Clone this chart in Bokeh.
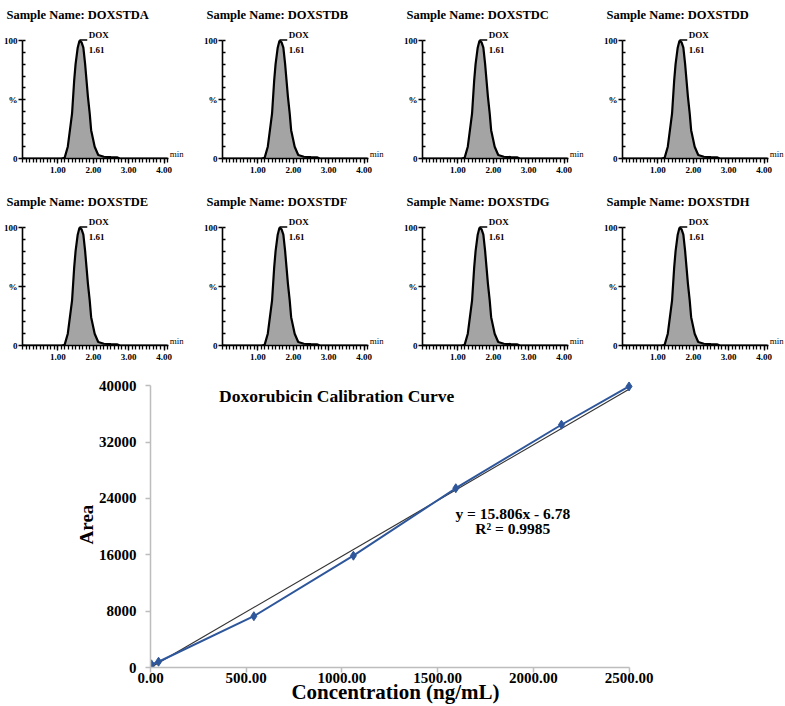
from bokeh.plotting import figure
from bokeh.models import FixedTicker, Range1d, NumeralTickFormatter
from bokeh.layouts import column, row
from bokeh.embed import file_html
from bokeh.resources import INLINE
from bokeh.core.properties import value
import numpy as np

SERIF = "Liberation Serif"

# ---------------- chromatogram data ----------------
sample_names = ["DOXSTDA", "DOXSTDB", "DOXSTDC", "DOXSTDD",
                "DOXSTDE", "DOXSTDF", "DOXSTDG", "DOXSTDH"]
peak_name = "DOX"
retention_time = 1.61
peak_time = [0.00, 1.10, 1.19, 1.28, 1.34, 1.40, 1.43, 1.46, 1.50, 1.56, 1.61,
             1.67, 1.72, 1.77, 1.81, 1.85, 1.90, 1.94, 2.04, 2.14, 2.30, 2.50,
             2.67, 2.75, 4.10]
peak_intensity = [0, 0, 0.5, 10, 24, 38, 52, 66, 80, 94, 100,
                  98.5, 94, 80, 66, 52, 38, 24, 10, 3, 1.5, 1.2,
                  1.0, 0, 0]
chrom_x_ticks = [1, 2, 3, 4]
chrom_y_ticks = [0, 50, 100]
chrom_y_labels = {50: "%"}

# ---------------- calibration data ----------------
concentration = [3, 5, 42, 540, 1060, 1595, 2147, 2500]
area = [150, 450, 820, 7280, 15870, 25450, 34460, 39900]
slope = 15.806
intercept = -6.78
r_squared = 0.9985
calib_x_ticks = [0, 500, 1000, 1500, 2000, 2500]
calib_y_ticks = [0, 8000, 16000, 24000, 32000, 40000]


def chromatogram(name, width, border_right):
    p = figure(width=width, height=187, output_backend="svg", toolbar_location=None,
               x_range=Range1d(0, 4.55), y_range=Range1d(0, 112),
               min_border_left=19, min_border_right=border_right, min_border_top=0,
               min_border_bottom=29, title="Sample Name: " + name)
    p.title.text_font = SERIF
    p.title.text_font_style = "bold"
    p.title.text_font_size = "12.5px"
    p.title.text_color = "black"
    p.title.offset = -16
    p.title.standoff = 10
    p.outline_line_color = None
    p.grid.visible = False

    p.varea(x=peak_time, y1=0, y2=peak_intensity, fill_color="#a4a4a4")
    p.line(peak_time, peak_intensity, line_color="black", line_width=2.2)

    p.line([retention_time, retention_time + 0.22], [100.6, 100.6],
           line_color="black", line_width=1.5)
    p.text(x=[retention_time + 0.26, retention_time + 0.26], y=[105, 92],
           text=[peak_name, f"{retention_time:.2f}"],
           text_font=value(SERIF), text_font_style="bold", text_font_size="9px",
           text_baseline="middle", text_align="left", text_color="black")
    p.text(x=[4.16], y=[4], text=["min"], text_font=value(SERIF),
           text_font_size="9px", text_baseline="middle", text_align="left",
           text_color="black")

    xa = p.xaxis[0]
    xa.bounds = (0, 4.12)
    xa.ticker = FixedTicker(ticks=chrom_x_ticks,
                            minor_ticks=list(np.round(np.arange(0, 4.15, 0.1), 2)))
    xa.formatter = NumeralTickFormatter(format="0.00")
    xa.axis_line_width = 1.6
    xa.major_tick_out = 5
    xa.major_tick_in = 0
    xa.minor_tick_out = 4
    xa.minor_tick_in = 0
    xa.major_tick_line_width = 1.3
    xa.minor_tick_line_width = 1.3
    xa.major_label_standoff = 3

    ya = p.yaxis[0]
    ya.bounds = (0, 100)
    ya.ticker = FixedTicker(ticks=chrom_y_ticks,
                            minor_ticks=list(range(0, 101, 10)))
    ya.major_label_overrides = chrom_y_labels
    ya.axis_line_width = 1.6
    ya.major_tick_out = 4
    ya.major_tick_in = 0
    ya.minor_tick_out = 0
    ya.minor_tick_in = 3
    ya.major_tick_line_width = 1.3
    ya.minor_tick_line_width = 1.3
    ya.major_label_standoff = 1
    for ax in (xa, ya):
        ax.axis_line_color = "black"
        ax.major_tick_line_color = "black"
        ax.minor_tick_line_color = "black"
        ax.major_label_text_font = SERIF
        ax.major_label_text_font_style = "bold"
        ax.major_label_text_font_size = "9px"
        ax.major_label_text_color = "black"
    return p


chroms = []
for i, n in enumerate(sample_names):
    last = (i % 4 == 3)
    chroms.append(chromatogram(n, 184 if last else 200, 1 if last else 17))

# ---------------- calibration curve ----------------
c = figure(width=784, height=332, output_backend="svg", toolbar_location=None,
           x_range=Range1d(0, 2560), y_range=Range1d(0, 40600),
           min_border_left=150, min_border_right=144, min_border_top=7,
           min_border_bottom=37)
c.outline_line_color = None
c.grid.visible = False

trend_x = [0, concentration[-1]]
trend_y = [slope * x + intercept for x in trend_x]
c.line(trend_x, trend_y, line_color="#333333", line_width=1.2)
c.line(concentration, area, line_color="#2e569b", line_width=2)
c.scatter(concentration, area, marker="diamond", size=9,
          fill_color="#2e569b", line_color="#2e569b")

c.text(x=[973], y=[38600], text=["Doxorubicin Calibration Curve"],
       text_font=value(SERIF), text_font_style="bold", text_font_size="17.5px",
       text_align="center", text_baseline="middle", text_color="black")
c.text(x=[1893, 1893], y=[21800, 19800],
       text=[f"y = {slope}x - {abs(intercept)}", f"R² = {r_squared}"],
       text_font=value(SERIF), text_font_style="bold", text_font_size="15.5px",
       text_align="center", text_baseline="middle", text_color="black")

cx = c.xaxis[0]
cx.bounds = (0, 2500)
cx.ticker = FixedTicker(ticks=calib_x_ticks)
cx.formatter = NumeralTickFormatter(format="0.00")
cx.axis_label = "Concentration (ng/mL)"
cy = c.yaxis[0]
cy.bounds = (0, 40000)
cy.ticker = FixedTicker(ticks=calib_y_ticks)
cy.axis_label = "Area"
for ax in (cx, cy):
    ax.axis_line_color = "#bdbdbd"
    ax.axis_line_width = 1.5
    ax.major_tick_line_color = "#bdbdbd"
    ax.major_tick_line_width = 1.5
    ax.major_tick_out = 5
    ax.major_tick_in = 0
    ax.minor_tick_line_color = None
    ax.major_label_text_font = SERIF
    ax.major_label_text_font_style = "bold"
    ax.major_label_text_font_size = "15px"
    ax.major_label_text_color = "black"
    ax.axis_label_text_font = SERIF
    ax.axis_label_text_font_style = "bold"
    ax.axis_label_text_color = "black"
cx.major_label_standoff = 0
cx.axis_label_standoff = -6
cx.axis_label_text_font_size = "21px"
cy.major_label_standoff = 9
cy.axis_label_standoff = -1
cy.axis_label_text_font_size = "19px"

layout = column(row(*chroms[:4]), row(*chroms[4:]), c)
open("out.html", "w").write(file_html(layout, INLINE))
